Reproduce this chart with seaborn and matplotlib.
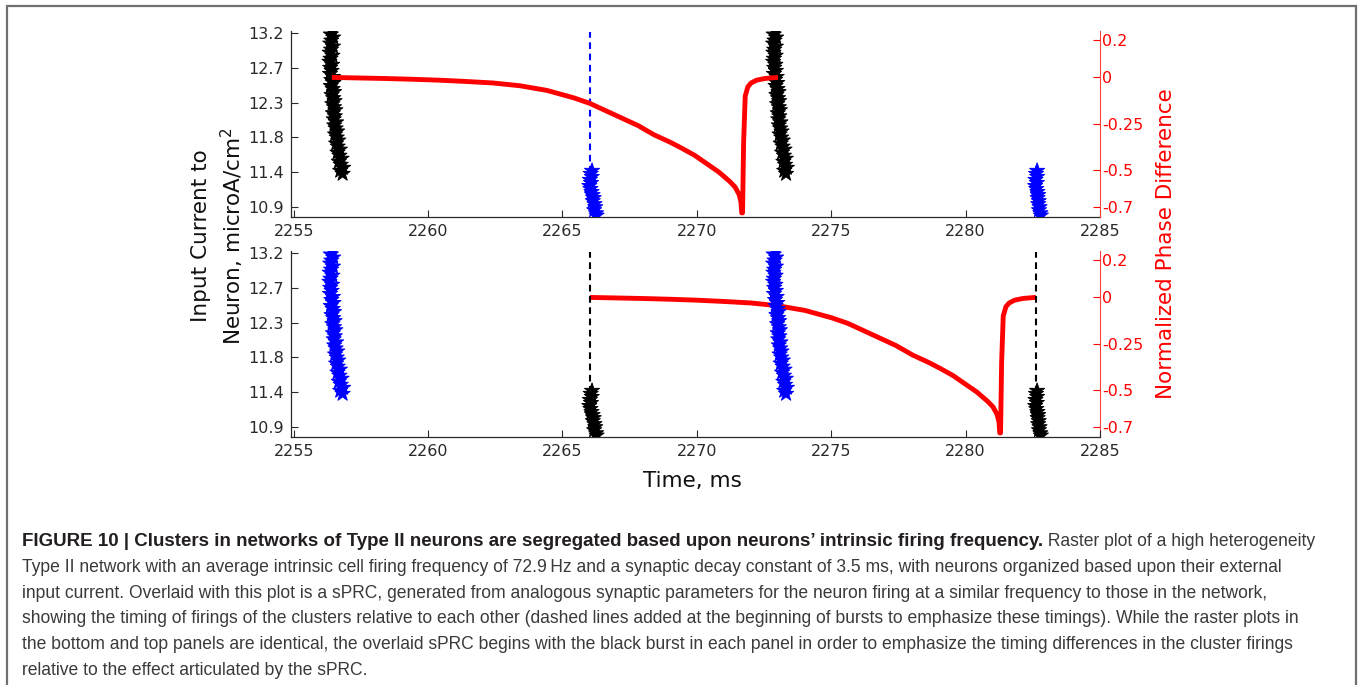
import numpy as np
import pandas as pd
import matplotlib
matplotlib.use("Agg")
import matplotlib.pyplot as plt
import seaborn as sns
from matplotlib.patches import Rectangle
from matplotlib import font_manager

sns.set_style("white")
plt.rcParams['font.family'] = ['DejaVu Sans']

# ---------------- data ----------------
# neuron input currents (microA/cm^2) of the high-current cluster
currents_big = [13.22, 13.18, 13.14, 13.10, 13.06, 13.02, 12.98, 12.94, 12.90, 12.86,
                12.82, 12.78, 12.74, 12.70, 12.66, 12.62, 12.58, 12.54, 12.50, 12.46,
                12.42, 12.38, 12.34, 12.30, 12.26, 12.22, 12.18, 12.14, 12.10, 12.06,
                12.02, 11.98, 11.94, 11.90, 11.86, 11.82, 11.78, 11.74, 11.70, 11.66,
                11.62, 11.58, 11.54, 11.50, 11.46, 11.42, 11.38, 11.34]
# spike times of the high-current cluster, first burst (ms)
times_A = [2256.45, 2256.38, 2256.47, 2256.40, 2256.36, 2256.46, 2256.39, 2256.34, 2256.44, 2256.37,
           2256.33, 2256.43, 2256.36, 2256.41, 2256.35, 2256.46, 2256.40, 2256.48, 2256.38, 2256.45,
           2256.50, 2256.41, 2256.47, 2256.52, 2256.44, 2256.50, 2256.55, 2256.46, 2256.53, 2256.49,
           2256.58, 2256.51, 2256.56, 2256.62, 2256.54, 2256.60, 2256.66, 2256.58, 2256.64, 2256.72,
           2256.63, 2256.70, 2256.78, 2256.68, 2256.75, 2256.84, 2256.73, 2256.82]
# spike times of the high-current cluster, second burst (ms)
times_C = [2272.93, 2272.86, 2272.95, 2272.89, 2272.84, 2272.94, 2272.88, 2272.85, 2272.93, 2272.87,
           2272.84, 2272.92, 2272.88, 2272.94, 2272.87, 2272.97, 2272.91, 2272.99, 2272.93, 2273.00,
           2273.04, 2272.96, 2273.02, 2273.06, 2272.99, 2273.05, 2273.09, 2273.01, 2273.07, 2273.03,
           2273.11, 2273.05, 2273.10, 2273.15, 2273.08, 2273.14, 2273.20, 2273.12, 2273.19, 2273.26,
           2273.17, 2273.24, 2273.31, 2273.22, 2273.28, 2273.35, 2273.25, 2273.32]
# neuron input currents of the low-current cluster
currents_small = [11.38, 11.34, 11.30, 11.26, 11.22, 11.18, 11.14, 11.10, 11.06, 11.02,
                  10.98, 10.94, 10.90, 10.86, 10.82, 10.79]
times_B = [2266.10, 2266.05, 2266.09, 2266.02, 2266.06, 2266.00, 2266.04, 2266.08, 2266.12, 2266.16,
           2266.13, 2266.19, 2266.22, 2266.18, 2266.25, 2266.27]
times_D = [2282.66, 2282.62, 2282.66, 2282.60, 2282.65, 2282.59, 2282.63, 2282.67, 2282.70, 2282.68,
           2282.72, 2282.70, 2282.75, 2282.73, 2282.78, 2282.80]

# sPRC: time after the black burst (ms) and normalized phase difference
sprc_t = [0.0, 1.0, 2.0, 3.0, 4.0, 5.0, 6.0, 7.0, 8.0, 9.0, 9.6, 10.2, 10.8, 11.4, 12.0,
          12.6, 13.0, 13.5, 14.0, 14.4, 14.8, 15.0, 15.15, 15.22, 15.25, 15.28, 15.32,
          15.38, 15.48, 15.6, 15.8, 16.1, 16.4, 16.6]
sprc_phase = [0.0, -0.003, -0.006, -0.010, -0.015, -0.022, -0.030, -0.045, -0.07, -0.11,
              -0.14, -0.18, -0.22, -0.26, -0.31, -0.35, -0.38, -0.42, -0.47, -0.51, -0.56,
              -0.59, -0.63, -0.67, -0.73, -0.73, -0.35, -0.10, -0.05, -0.03, -0.015,
              -0.006, -0.002, 0.0]
sprc_onset = {"top": 2256.42, "bottom": 2266.02}

dash_x = {"top": [2266.02], "bottom": [2266.02, 2282.63]}
dash_color = {"top": "#0000ff", "bottom": "#000000"}
dash_range = (11.2, 13.21)

cluster_color = {
    "top": {"A": "#000000", "B": "#0000ff", "C": "#000000", "D": "#0000ff"},
    "bottom": {"A": "#0000ff", "B": "#000000", "C": "#0000ff", "D": "#000000"},
}

x_ticks = [2255, 2260, 2265, 2270, 2275, 2280, 2285]
x_ticklabels = ["2255", "2260", "2265", "2270", "2275", "2280", "2285"]
y_ticks = [10.9, 11.36, 11.82, 12.28, 12.74, 13.2]
y_ticklabels = ["10.9", "11.4", "11.8", "12.3", "12.7", "13.2"]
phase_ticks = [-0.7, -0.5, -0.25, 0.0, 0.2]
phase_ticklabels = ["-0.7", "-0.5", "-0.25", "0", "0.2"]

caption_bold = ("FIGURE 10 | Clusters in networks of Type II neurons are segregated based "
                "upon neurons\u2019 intrinsic firing frequency.")
caption_lines = [
    " Raster plot of a high heterogeneity",
    "Type II network with an average intrinsic cell firing frequency of 72.9\u2009Hz and a synaptic decay constant of 3.5 ms, with neurons organized based upon their external",
    "input current. Overlaid with this plot is a sPRC, generated from analogous synaptic parameters for the neuron firing at a similar frequency to those in the network,",
    "showing the timing of firings of the clusters relative to each other (dashed lines added at the beginning of bursts to emphasize these timings). While the raster plots in",
    "the bottom and top panels are identical, the overlaid sPRC begins with the black burst in each panel in order to emphasize the timing differences in the cluster firings",
    "relative to the effect articulated by the sPRC.",
]

# ---------------- figure ----------------
FW, FH = 1360, 685
fig = plt.figure(figsize=(FW / 100, FH / 100), dpi=100)
fig.patch.set_facecolor("white")

L, W, H = 291 / FW, 809 / FW, 186 / FH
panel_bottom = {"top": 1 - 217 / FH, "bottom": 1 - 437 / FH}
dark = "#2a2a2a"

for name in ["top", "bottom"]:
    ax = fig.add_axes([L, panel_bottom[name], W, H])
    ax2 = ax.twinx()

    frames = []
    for key, t, c in [("A", times_A, currents_big), ("B", times_B, currents_small),
                      ("C", times_C, currents_big), ("D", times_D, currents_small)]:
        frames.append(pd.DataFrame({"time": t, "current": c, "cluster": key}))
    raster = pd.concat(frames, ignore_index=True)

    sns.scatterplot(data=raster, x="time", y="current", hue="cluster",
                    palette=cluster_color[name], marker="*", s=130, linewidth=0.7,
                    edgecolor="face", legend=False, ax=ax, zorder=3)
    ax.vlines(dash_x[name], dash_range[0], dash_range[1], colors=dash_color[name],
              linestyles=(0, (3.2, 2.2)), linewidth=1.5, zorder=2)

    sprc = pd.DataFrame({"time": np.array(sprc_t) + sprc_onset[name], "phase": sprc_phase})
    sns.lineplot(data=sprc, x="time", y="phase", estimator=None, sort=False,
                 color="#ff0000", linewidth=3.5, ax=ax2)
    for ln in ax2.get_lines():
        ln.set_solid_capstyle("butt")

    if name == "bottom":
        ax.set_zorder(ax2.get_zorder() + 1)
        ax.patch.set_visible(False)

    ax.set_xlim(2254.9, 2285)
    ax.set_ylim(10.77, 13.226)
    ax2.set_ylim(-0.752, 0.25)

    ax.set_xticks(x_ticks)
    ax.set_xticklabels(x_ticklabels)
    ax.set_yticks(y_ticks)
    ax.set_yticklabels(y_ticklabels)
    ax2.set_yticks(phase_ticks)
    ax2.set_yticklabels(phase_ticklabels)
    ax.set_xlabel("")
    ax.set_ylabel("")
    ax2.set_xlabel("")
    ax2.set_ylabel("")

    ax.tick_params(axis="both", direction="in", length=5, width=0.8, colors=dark,
                   labelsize=11.5, pad=5, bottom=True, left=True, right=False, top=False)
    ax2.tick_params(axis="y", direction="in", length=5, width=0.8, colors="#ff0000",
                    labelsize=11.5, pad=1.5, right=True, left=False)

    for s in ["top", "right"]:
        ax.spines[s].set_visible(False)
    for s in ["left", "bottom"]:
        ax.spines[s].set_color(dark)
        ax.spines[s].set_linewidth(0.9)
    for s in ["top", "left", "bottom"]:
        ax2.spines[s].set_visible(False)
    ax2.spines["right"].set_color("#ff4040")
    ax2.spines["right"].set_linewidth(0.8)
    ax.grid(False)
    ax2.grid(False)

# axis titles
label_fs = 15.5
fig.text(201 / FW, 1 - 236 / FH, "Input Current to", rotation=90, ha="center", va="center",
         fontsize=label_fs, color="#111111")
fig.text(232 / FW, 1 - 236 / FH, "Neuron, microA/cm$^2$", rotation=90, ha="center", va="center",
         fontsize=label_fs, color="#111111")
fig.text(1166 / FW, 1 - 244 / FH, "Normalized Phase Difference", rotation=90, ha="center",
         va="center", fontsize=label_fs, color="#ff0000")
fig.text(692 / FW, 1 - 481 / FH, "Time, ms", ha="center", va="center",
         fontsize=label_fs, color="#111111")

# frame around the figure panel
fig.add_artist(Rectangle((7 / FW, -0.05), (1356 - 7) / FW, 1.05 - 6 / FH,
                         transform=fig.transFigure, fill=False, edgecolor="#707070",
                         linewidth=1.6))

# caption
names = {f.name for f in font_manager.fontManager.ttflist}
cap_family = "Liberation Sans Narrow" if "Liberation Sans Narrow" in names else "Liberation Sans"
renderer = fig.canvas.get_renderer()
probe = fig.text(0, 0, caption_lines[3], fontsize=10, family=cap_family)
probe_w = probe.get_window_extent(renderer).width
probe.remove()
cap_fs = 10 * (1284 / probe_w)
probe = fig.text(0, 0, caption_bold, fontsize=10, family=cap_family, fontweight="bold")
bold_w = probe.get_window_extent(renderer).width
probe.remove()
bold_fs = 10 * (1026 / bold_w)

x0 = 22 / FW
base0 = 546
step = 25.8
cap_color = "#231f20"
tb = fig.text(x0, 1 - base0 / FH, caption_bold, fontsize=bold_fs, family=cap_family,
              fontweight="bold", va="baseline", color=cap_color)
bb = tb.get_window_extent(renderer)
fig.text(bb.x1 / FW, 1 - base0 / FH, caption_lines[0], fontsize=cap_fs, family=cap_family,
         va="baseline", color="#3a3a3a")
for i, line in enumerate(caption_lines[1:], start=1):
    fig.text(x0, 1 - (base0 + i * step) / FH, line, fontsize=cap_fs, family=cap_family,
             va="baseline", color="#3a3a3a")

fig.savefig("out.png", dpi=100, facecolor="white")
